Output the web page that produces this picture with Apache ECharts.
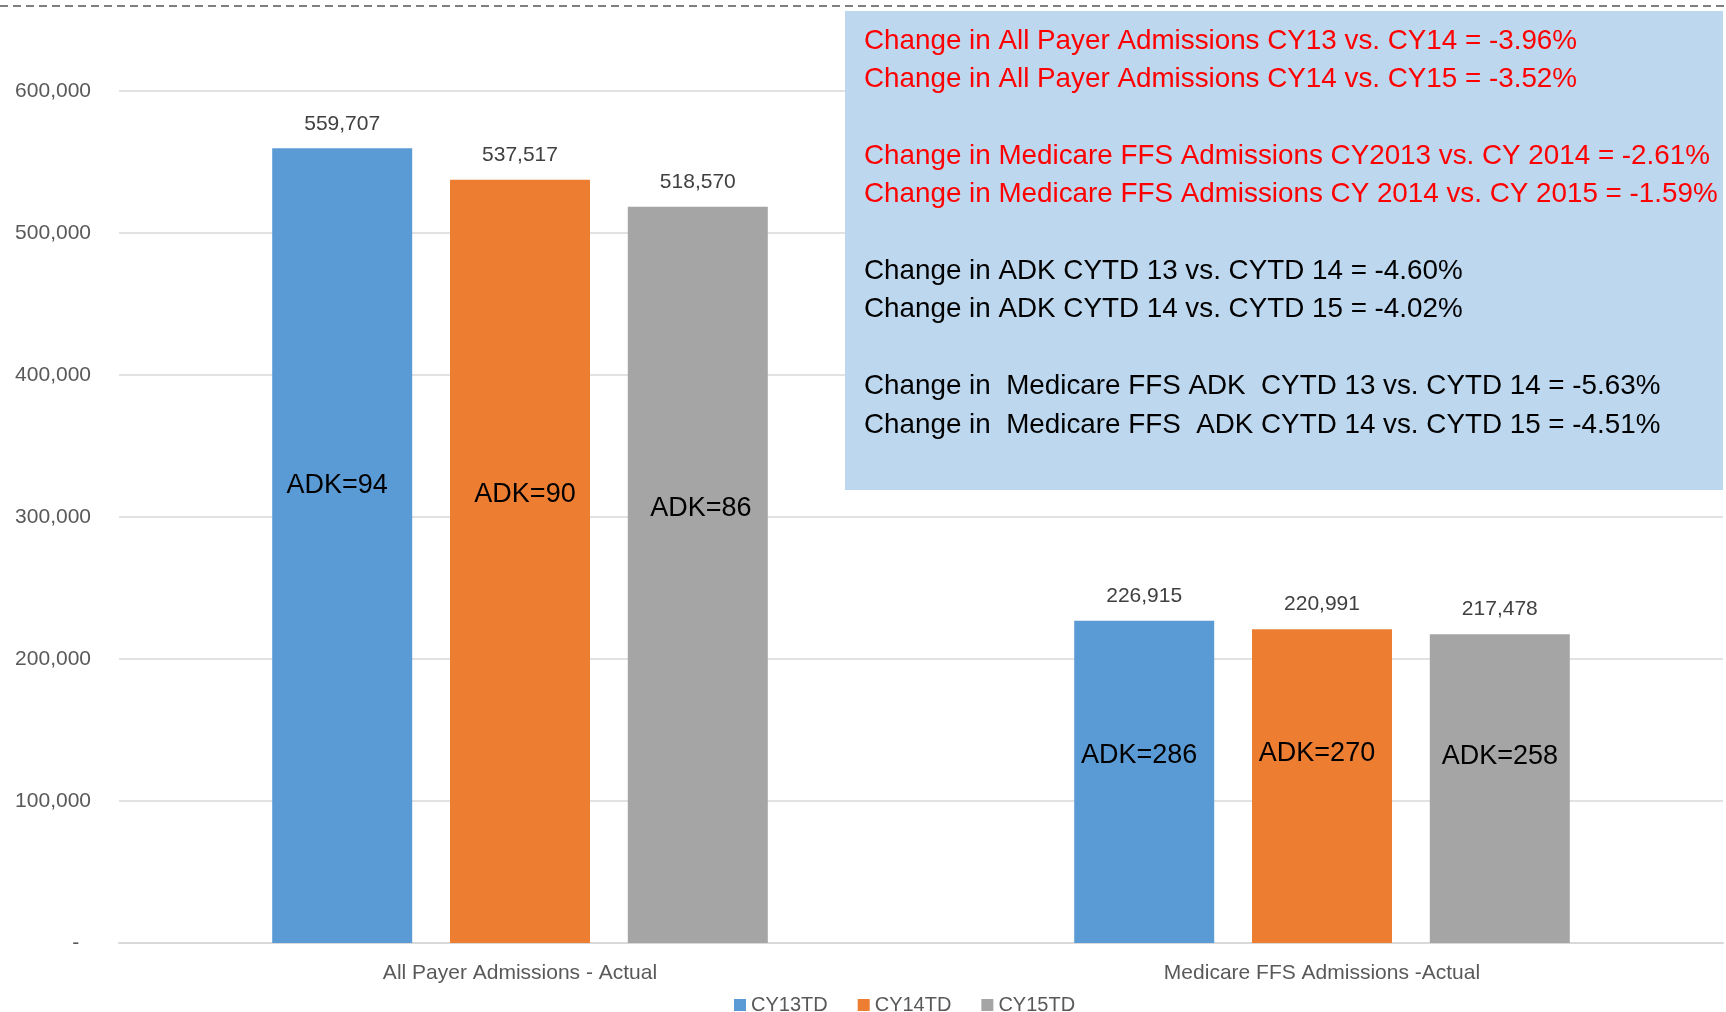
<!DOCTYPE html>
<html>
<head>
<meta charset="utf-8">
<title>Admissions CYTD</title>
<script src="https://cdn.jsdelivr.net/npm/echarts@6/dist/echarts.min.js"></script>
<style>
    html, body { margin: 0; padding: 0; background: #fff; }
    #main { width: 1726px; height: 1012px; }
</style>
</head>
<body>
<div id="main"></div>
<script>
// 分类
var categories = ['All Payer Admissions - Actual', 'Medicare FFS Admissions -Actual'];
var seriesNames = ['CY13TD', 'CY14TD', 'CY15TD'];

// 入院数
var cy13 = [559707, 226915];
var cy14 = [537517, 220991];
var cy15 = [518570, 217478];

// ADK (柱子里的文字) 和它所在的数值高度
var adk13 = [94, 286];
var adk14 = [90, 270];
var adk15 = [86, 258];
var adkAt13 = [322000, 131700];
var adkAt14 = [315500, 133100];
var adkAt15 = [306300, 131000];

// y轴
var yMin = 0;
var yMax = 600000;
var yStep = 100000;

// 右上角说明框
var redNotes = [
    'Change in All Payer Admissions CY13 vs. CY14 = -3.96%',
    'Change in All Payer Admissions CY14 vs. CY15 = -3.52%',
    'Change in Medicare FFS Admissions CY2013 vs. CY 2014 = -2.61%',
    'Change in Medicare FFS Admissions CY 2014 vs. CY 2015 = -1.59%'
];
var blackNotes = [
    'Change in ADK CYTD 13 vs. CYTD 14 = -4.60%',
    'Change in ADK CYTD 14 vs. CYTD 15 = -4.02%',
    'Change in  Medicare FFS ADK  CYTD 13 vs. CYTD 14 = -5.63%',
    'Change in  Medicare FFS  ADK CYTD 14 vs. CYTD 15 = -4.51%'
];

var FONT = "'Liberation Sans', Arial, sans-serif";
var colors = ['#5B9BD5', '#ED7D31', '#A5A5A5'];

var chart = echarts.init(document.getElementById('main'));

function fmt(v) {
    return v === 0 ? '-  ' : v.toLocaleString('en-US');
}

// 一组柱子 (nudge: ADK文字左右微调)
function makeSeries(name, values, adk, adkAt, nudge) {
    return {
        name: name,
        type: 'bar',
        barWidth: 140,
        barGap: '27%',
        data: values,
        label: {
            show: true,
            position: 'top',
            distance: 14,
            fontFamily: FONT,
            fontSize: 21,
            color: '#404040',
            formatter: function (p) { return fmt(p.value); }
        },
        markPoint: {
            symbol: 'rect',
            symbolSize: 1,
            itemStyle: { color: 'rgba(0,0,0,0)' },
            label: {
                show: true,
                position: 'inside',
                fontFamily: FONT,
                fontSize: 27,
                color: '#000',
                formatter: function (p) { return 'ADK=' + p.value; }
            },
            data: adk.map(function (v, i) {
                return {
                    coord: [categories[i], adkAt[i]],
                    value: v,
                    label: { offset: [nudge[i], 0] }
                };
            })
        }
    };
}

// 说明文字
var noteY = [41, 79, 156, 194, 271, 309, 386, 425];
var noteTexts = redNotes.concat(blackNotes);
var graphics = [
    {
        type: 'line',
        z: 100,
        shape: { x1: 0, y1: 6, x2: 1726, y2: 6 },
        style: { stroke: '#7F7F7F', lineWidth: 2, lineDash: [8, 5] }
    },
    {
        type: 'rect',
        z: 100,
        shape: { x: 845, y: 11, width: 878, height: 479 },
        style: { fill: '#BDD7EE' }
    }
];
noteTexts.forEach(function (t, i) {
    graphics.push({
        type: 'text',
        z: 101,
        x: 864,
        y: noteY[i],
        style: {
            text: t,
            fill: i < redNotes.length ? '#FF0000' : '#000000',
            font: '27.8px ' + FONT,
            verticalAlign: 'middle',
            align: 'left'
        }
    });
});

var option = {
    animation: false,
    color: colors,
    grid: { left: 119, right: 3, top: 91, bottom: 69 },
    legend: {
        data: seriesNames,
        left: 729,
        top: 990,
        icon: 'rect',
        itemWidth: 12,
        itemHeight: 12,
        itemGap: 30,
        textStyle: { fontFamily: FONT, fontSize: 20, color: '#595959' }
    },
    xAxis: {
        type: 'category',
        data: categories,
        axisTick: { show: false },
        axisLine: { lineStyle: { color: '#D9D9D9', width: 2 } },
        axisLabel: { margin: 20, fontFamily: FONT, fontSize: 21, color: '#595959' }
    },
    yAxis: {
        type: 'value',
        min: yMin,
        max: yMax,
        interval: yStep,
        axisLine: { show: false },
        axisTick: { show: false },
        splitLine: { lineStyle: { color: '#D9D9D9', width: 1.5 } },
        axisLabel: {
            margin: 28,
            fontFamily: FONT,
            fontSize: 21,
            color: '#595959',
            formatter: fmt
        }
    },
    graphic: graphics,
    series: [
        makeSeries(seriesNames[0], cy13, adk13, adkAt13, [-5, -5]),
        makeSeries(seriesNames[1], cy14, adk14, adkAt14, [5, -5]),
        makeSeries(seriesNames[2], cy15, adk15, adkAt15, [3, 0])
    ]
};

chart.setOption(option);
</script>
</body>
</html>
